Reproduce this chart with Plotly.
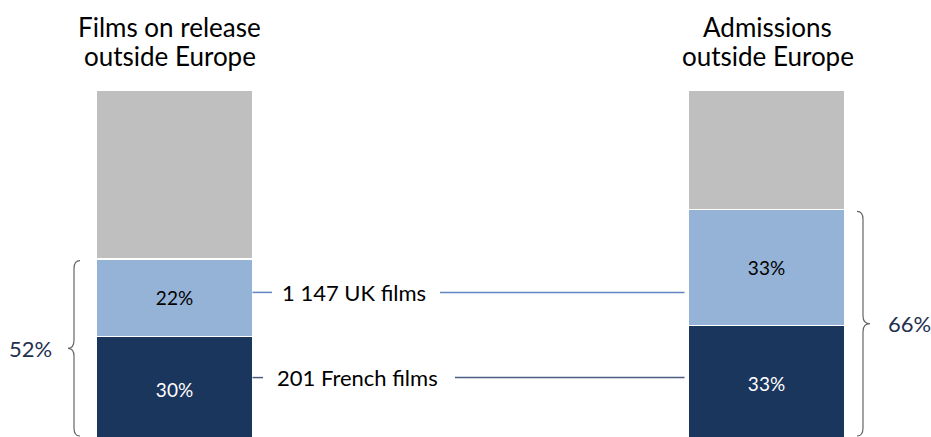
import plotly.graph_objects as go

# ---- data ----
categories = [["Films on release", "outside Europe"], ["Admissions", "outside Europe"]]
french_share = [30, 33]
uk_share = [22, 33]
other_share = [48, 34]
connector_labels = ["1 147 UK films", "201 French films"]
connector_y = [42.5, 18.3]

# ---- style ----
FONT = "Lato"
C_DARK = "#1B365D"
C_LIGHT = "#95B3D7"
C_GREY = "#BFBFBF"
C_UK_LINE = "#5F85C2"
C_FR_LINE = "#4A5E82"
C_BRACE = "#666666"
C_TOTAL = "#1F3050"

W, H = 931, 437
PX_PER_X = 592.0          # pixels per x unit
X0_PX = 174.5             # pixel of x=0
PX_PER_Y = 3.52           # pixels per y unit
Y0_PX = 442.0             # pixel of y=0

def xd(p):
    return (p - X0_PX) / PX_PER_X

def ydv(p):
    return (Y0_PX - p) / PX_PER_Y

xpos = [0, 1]
bar_w = 156 / PX_PER_X

fig = go.Figure()
series = [
    (french_share, C_DARK, "white"),
    (uk_share, C_LIGHT, "black"),
    (other_share, C_GREY, "black"),
]
for i, (vals, col, tcol) in enumerate(series):
    fig.add_trace(go.Bar(
        x=xpos, y=vals, width=bar_w,
        marker=dict(color=col, line=dict(color="white", width=1.2)),
        text=[f"{v}%" for v in vals] if i < 2 else None,
        textposition="inside", insidetextanchor="middle", textangle=0,
        textfont=dict(family=FONT, size=19, color=tcol),
        hoverinfo="skip", showlegend=False,
    ))

shapes = []
annotations = []

# column titles (one annotation per line for tighter line spacing)
line_px = [27, 56]
for i, lines in enumerate(categories):
    for j, ln in enumerate(lines):
        annotations.append(dict(
            x=xpos[i], y=1 - line_px[j] / H, xref="x", yref="paper", text=ln, showarrow=False,
            xanchor="center", yanchor="middle", xshift=-5 if i == 0 else 1,
            font=dict(family=FONT, size=26, color="black"),
        ))

# connectors between the bars
left_edge = xpos[0] + bar_w / 2
right_edge = xpos[1] - bar_w / 2
conn = [
    (connector_labels[0], connector_y[0], C_UK_LINE, 272, 280, 440),
    (connector_labels[1], connector_y[1], C_FR_LINE, 263, 275, 455),
]
for label, yv, col, stub_end, text_x, line_start in conn:
    shapes.append(dict(type="line", xref="x", yref="y", x0=left_edge, x1=xd(stub_end),
                       y0=yv, y1=yv, line=dict(color=col, width=1.5)))
    shapes.append(dict(type="line", xref="x", yref="y", x0=xd(line_start), x1=right_edge - xd(X0_PX + 4),
                       y0=yv, y1=yv, line=dict(color=col, width=1.5)))
    annotations.append(dict(x=xd(text_x), y=yv, xref="x", yref="y", text=label, showarrow=False,
                            xanchor="left", yanchor="middle",
                            font=dict(family=FONT, size=22, color="black")))

# braces
def brace(x_end, x_line, x_tip, top, bot, r):
    mid = (top + bot) / 2
    return (f"M {x_end},{top} Q {x_line},{top} {x_line},{top - r} "
            f"L {x_line},{mid + r} Q {x_line},{mid} {x_tip},{mid} "
            f"Q {x_line},{mid} {x_line},{mid - r} "
            f"L {x_line},{bot + r} Q {x_line},{bot} {x_end},{bot}")

r = 8 / PX_PER_Y
bot_val = ydv(436)
totals = [french_share[i] + uk_share[i] for i in range(2)]

# left brace
top_l = totals[0] - 0.5
shapes.append(dict(type="path", xref="x", yref="y",
                   path=brace(xd(80), xd(74), xd(68), top_l, bot_val, r),
                   line=dict(color=C_BRACE, width=1.2)))
annotations.append(dict(x=xd(54), y=(top_l + bot_val) / 2, xref="x", yref="y",
                        text=f"{totals[0]}%", showarrow=False, xanchor="right", yanchor="middle",
                        font=dict(family=FONT, size=22, color=C_TOTAL)))
# right brace
top_r = totals[1] - 0.5
shapes.append(dict(type="path", xref="x", yref="y",
                   path=brace(xd(857), xd(863), xd(870), top_r, bot_val, r),
                   line=dict(color=C_BRACE, width=1.2)))
annotations.append(dict(x=xd(886), y=(top_r + bot_val) / 2, xref="x", yref="y",
                        text=f"{totals[1]}%", showarrow=False, xanchor="left", yanchor="middle",
                        font=dict(family=FONT, size=22, color=C_TOTAL)))

fig.update_layout(
    width=W, height=H, barmode="stack",
    margin=dict(l=0, r=0, t=0, b=0),
    paper_bgcolor="white", plot_bgcolor="white",
    xaxis=dict(range=[xd(0), xd(W)], visible=False, fixedrange=True),
    yaxis=dict(range=[ydv(H), ydv(0)], visible=False, fixedrange=True),
    shapes=shapes, annotations=annotations,
)
fig.write_html("out.html", config={"displayModeBar": False},
               post_script="document.body.style.margin='0';document.body.style.overflow='hidden';")
